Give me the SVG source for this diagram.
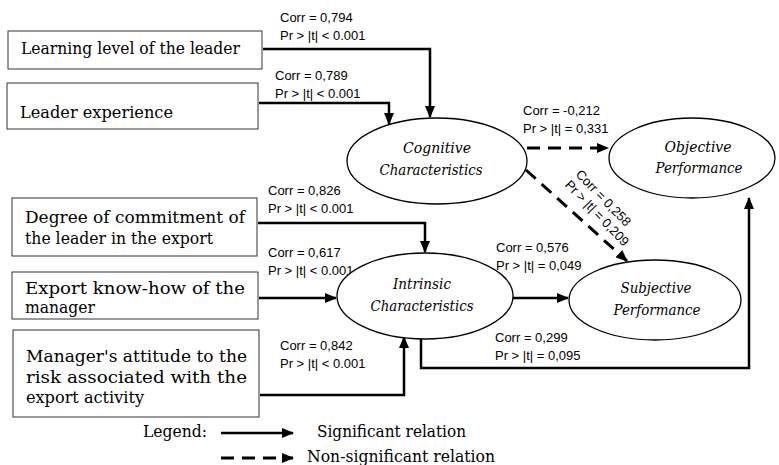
<svg xmlns="http://www.w3.org/2000/svg" width="779" height="465" viewBox="0 0 779 465">
<defs>
<marker id="ah" markerUnits="userSpaceOnUse" markerWidth="12" markerHeight="10" refX="11" refY="5" orient="auto">
<path d="M0,0 L12,5 L0,10 Z" fill="#000"/>
</marker>
<style>
.box{fill:#fff;stroke:#333;stroke-width:1}
.ell{fill:#fff;stroke:#000;stroke-width:1.3}
.bt{font-family:"DejaVu Serif","Liberation Serif",serif;font-size:16.5px;fill:#000}
.et{font-family:"DejaVu Serif","Liberation Serif",serif;font-size:15px;font-style:italic;fill:#000;text-anchor:middle}
.lab{font-family:"Liberation Sans",Arial,sans-serif;font-size:13px;fill:#000}
.sol{fill:none;stroke:#000;stroke-width:2.5}
.dash{fill:none;stroke:#000;stroke-width:3;stroke-dasharray:13 8}
</style>
</defs>
<rect width="779" height="465" fill="#fff"/>

<g id="connectors">
<path class="sol" d="M263,49 H430 V117" marker-end="url(#ah)"/>
<path class="sol" d="M259,103 H389 V124" marker-end="url(#ah)"/>
<path class="dash" d="M527,148 H608" marker-end="url(#ah)"/>
<path class="dash" d="M526,170 L627,261" marker-end="url(#ah)"/>
<path class="sol" d="M258,223 H425 V252" marker-end="url(#ah)"/>
<path class="sol" d="M259,298 H336" marker-end="url(#ah)"/>
<path class="sol" d="M260,395 H404 V337" marker-end="url(#ah)"/>
<path class="sol" d="M513,298 H568" marker-end="url(#ah)"/>
<path class="sol" d="M421,338 V368 H749 V198" marker-end="url(#ah)"/>
<text class="lab" x="280" y="22">Corr = 0,794</text>
<text class="lab" x="280" y="40">Pr &gt; |t| &lt; 0.001</text>
<text class="lab" x="275" y="80">Corr = 0,789</text>
<text class="lab" x="275" y="98">Pr &gt; |t| &lt; 0.001</text>
<text class="lab" x="523" y="115">Corr = -0,212</text>
<text class="lab" x="523" y="133">Pr &gt; |t| = 0,331</text>
<g transform="translate(575,175) rotate(46)">
<text class="lab" x="0" y="0">Corr = 0,258</text>
<text class="lab" x="0" y="15">Pr &gt; |t| = 0,209</text>
</g>
<text class="lab" x="268" y="195">Corr = 0,826</text>
<text class="lab" x="268" y="213">Pr &gt; |t| &lt; 0.001</text>
<text class="lab" x="268" y="257">Corr = 0,617</text>
<text class="lab" x="268" y="275">Pr &gt; |t| &lt; 0.001</text>
<text class="lab" x="496" y="252">Corr = 0,576</text>
<text class="lab" x="496" y="270">Pr &gt; |t| = 0,049</text>
<text class="lab" x="495" y="342">Corr = 0,299</text>
<text class="lab" x="495" y="360">Pr &gt; |t| = 0,095</text>
<text class="lab" x="280" y="350">Corr = 0,842</text>
<text class="lab" x="280" y="368">Pr &gt; |t| &lt; 0.001</text>
</g>

<g id="n-learning">
<rect class="box" x="8" y="31" width="254" height="38"/>
<text class="bt" x="21" y="54" textLength="219" lengthAdjust="spacingAndGlyphs">Learning level of the leader</text>
</g>
<g id="n-experience">
<rect class="box" x="7" y="83" width="251" height="46"/>
<text class="bt" x="20" y="118" textLength="153" lengthAdjust="spacingAndGlyphs">Leader experience</text>
</g>
<g id="n-commitment">
<rect class="box" x="12" y="198" width="245" height="58"/>
<text class="bt" x="25" y="223" textLength="220" lengthAdjust="spacingAndGlyphs">Degree of commitment of</text>
<text class="bt" x="25" y="244" textLength="188" lengthAdjust="spacingAndGlyphs">the leader in the export</text>
</g>
<g id="n-knowhow">
<rect class="box" x="12" y="272" width="246" height="47"/>
<text class="bt" x="25" y="294" textLength="220" lengthAdjust="spacingAndGlyphs">Export know-how of the</text>
<text class="bt" x="25" y="313" textLength="70" lengthAdjust="spacingAndGlyphs">manager</text>
</g>
<g id="n-attitude">
<rect class="box" x="13" y="330" width="246" height="87"/>
<text class="bt" x="26" y="362" textLength="221" lengthAdjust="spacingAndGlyphs">Manager's attitude to the</text>
<text class="bt" x="26" y="383" textLength="221" lengthAdjust="spacingAndGlyphs">risk associated with the</text>
<text class="bt" x="26" y="403" textLength="118" lengthAdjust="spacingAndGlyphs">export activity</text>
</g>
<g id="n-cognitive">
<ellipse class="ell" cx="437" cy="161" rx="90" ry="43"/>
<text class="et" x="437" y="153" textLength="68" lengthAdjust="spacingAndGlyphs">Cognitive</text>
<text class="et" x="431" y="175" textLength="103" lengthAdjust="spacingAndGlyphs">Characteristics</text>
</g>
<g id="n-objective">
<ellipse class="ell" cx="692" cy="158" rx="83" ry="40"/>
<text class="et" x="698" y="152" textLength="67" lengthAdjust="spacingAndGlyphs">Objective</text>
<text class="et" x="699" y="173" textLength="87" lengthAdjust="spacingAndGlyphs">Performance</text>
</g>
<g id="n-intrinsic">
<ellipse class="ell" cx="425" cy="296" rx="88" ry="43"/>
<text class="et" x="422" y="289" textLength="58" lengthAdjust="spacingAndGlyphs">Intrinsic</text>
<text class="et" x="422" y="311" textLength="103" lengthAdjust="spacingAndGlyphs">Characteristics</text>
</g>
<g id="n-subjective">
<ellipse class="ell" cx="655" cy="300" rx="86" ry="40"/>
<text class="et" x="656" y="293" textLength="71" lengthAdjust="spacingAndGlyphs">Subjective</text>
<text class="et" x="657" y="315" textLength="87" lengthAdjust="spacingAndGlyphs">Performance</text>
</g>

<g id="legend">
<text class="bt" x="143" y="437" textLength="64" lengthAdjust="spacingAndGlyphs">Legend:</text>
<path class="sol" d="M221,433 H293" marker-end="url(#ah)"/>
<text class="bt" x="317" y="437" textLength="149" lengthAdjust="spacingAndGlyphs">Significant relation</text>
<path class="dash" d="M221,458 H293" stroke-dasharray="13 12" marker-end="url(#ah)"/>
<text class="bt" x="307" y="462" textLength="188" lengthAdjust="spacingAndGlyphs">Non-significant relation</text>
</g>
</svg>
